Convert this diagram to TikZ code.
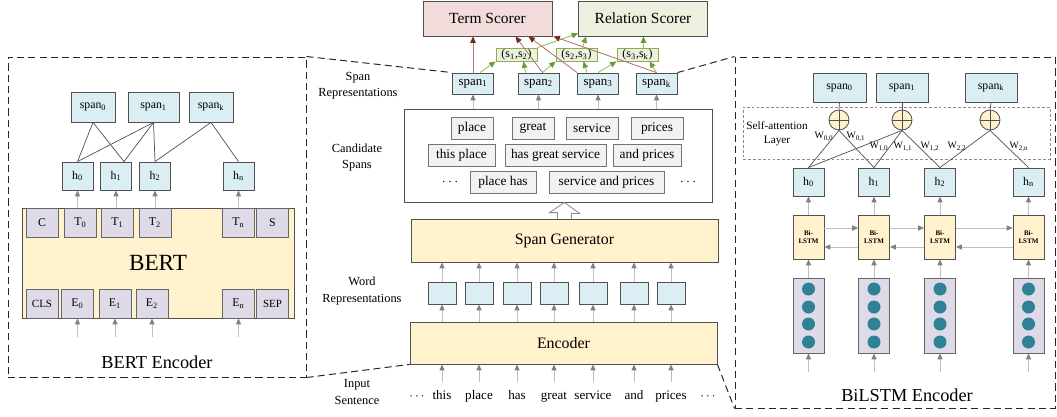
\documentclass[tikz,border=0pt]{standalone}
\usepackage{fontspec}
\setmainfont{Liberation Serif}
\usetikzlibrary{arrows.meta}
\newlength\px
\setlength\px{0.025cm}
\definecolor{spanblue}{HTML}{DAEEF3}
\definecolor{boxyellow}{HTML}{FFF2CC}
\definecolor{termred}{HTML}{F2DCDB}
\definecolor{relgreen}{HTML}{EBF1DE}
\definecolor{candgray}{HTML}{F2F2F2}
\definecolor{tokpurple}{HTML}{DEDAE8}
\definecolor{dotteal}{HTML}{2F8296}
\definecolor{edgegray}{HTML}{505050}
\definecolor{pairgreen}{HTML}{8CB050}
\definecolor{redline}{HTML}{B07572}
\definecolor{redtip}{HTML}{7B2421}
\definecolor{greenline}{HTML}{9BBB59}
\definecolor{greentip}{HTML}{6E9A32}
\begin{document}
\begin{tikzpicture}[x=0.025cm, y=-0.025cm, every node/.style={inner sep=0pt},
  bx/.style={draw=edgegray, line width=0.6pt},
  scorer/.style={bx, minimum width=129\px, minimum height=35\px, font=\fontsize{11}{13}\selectfont},
  pairbox/.style={draw=pairgreen, line width=0.6pt, fill=relgreen, minimum width=41\px, minimum height=13\px, font=\fontsize{8.5}{9}\selectfont},
  spanbox/.style={bx, fill=spanblue, minimum width=41\px, minimum height=21\px, font=\fontsize{9.2}{10}\selectfont},
  candbox/.style={draw=black!55, line width=0.6pt, fill=candgray, minimum height=22\px, font=\fontsize{9.5}{11}\selectfont},
  yellowbox/.style={bx, fill=boxyellow, font=\fontsize{11.3}{13}\selectfont},
  wordbox/.style={bx, fill=spanblue, minimum width=28\px, minimum height=22\px},
  word/.style={font=\fontsize{9.3}{10}\selectfont, text height=6.5pt, text depth=2pt},
  sidelabel/.style={align=center, font=\fontsize{8.8}{11.4}\selectfont},
  panel/.style={draw=black!85, line width=0.7pt, dash pattern=on 5pt off 3pt},
  hbox/.style={bx, fill=spanblue, minimum width=31\px, minimum height=28\px, font=\fontsize{8.4}{10}\selectfont},
  tokbox/.style={bx, draw=black!60, fill=tokpurple, minimum width=32\px, minimum height=29\px, font=\fontsize{8.4}{10}\selectfont},
  lstmbox/.style={bx, fill=boxyellow, minimum width=31\px, minimum height=44\px, align=center, font=\fontsize{5}{6}\selectfont\bfseries},
  embbox/.style={bx, draw=black!60, fill=tokpurple, minimum width=31\px, minimum height=75\px},
  dot/.style={circle, fill=dotteal, minimum size=13\px},
  addcirc/.style={circle, bx, fill=boxyellow, minimum size=20\px,
    path picture={\draw[edgegray, line width=0.6pt] (path picture bounding box.north) -- (path picture bounding box.south)
      (path picture bounding box.west) -- (path picture bounding box.east);}},
  wlabel/.style={font=\fontsize{7}{8}\selectfont},
  link/.style={draw=edgegray, line width=0.5pt},
  garrow/.style={draw=black!25, line width=0.6pt, -{Triangle[length=4.2pt, width=3.6pt, color=black!50]}},
  redarrow/.style={draw=redline, line width=0.6pt, -{Triangle[length=4.6pt, width=4pt, color=redtip]}},
  greenarrow/.style={draw=greenline, line width=0.6pt, -{Triangle[length=4.6pt, width=4pt, color=greentip]}}]
\useasboundingbox (0,0) rectangle (1057,416);

% scorers and span pairs
\node[scorer, fill=termred] (term) at (487.5,18.5) {Term Scorer};
\node[scorer, fill=relgreen] (rel) at (643,18.5) {Relation Scorer};
\node[pairbox] (p12) at (516.5,54.5) {(s\textsubscript{1},s\textsubscript{2})};
\node[pairbox] (p23) at (576.5,54.5) {(s\textsubscript{2},s\textsubscript{3})};
\node[pairbox] (p3k) at (637.5,54.5) {(s\textsubscript{3},s\textsubscript{k})};
\node[spanbox] (sp1) at (473,83.5) {span\textsubscript{1}};
\node[spanbox] (sp2) at (538.5,83.5) {span\textsubscript{2}};
\node[spanbox] (sp3) at (598,83.5) {span\textsubscript{3}};
\node[spanbox] (spk) at (656.5,83.5) {span\textsubscript{k}};

% candidate spans
\node[bx, minimum width=308\px, minimum height=93\px] (cand) at (558,155.5) {};
\node[candbox, minimum width=42\px] (cs1) at (472,128) {place};
\node[candbox, minimum width=42\px] (cs2) at (533,128) {great};
\node[candbox, minimum width=52\px] (cs3) at (592,128) {service};
\node[candbox, minimum width=52\px] (cs4) at (657,128) {prices};
\node[candbox, minimum width=67\px] (cs5) at (461.5,155) {this place};
\node[candbox, minimum width=101\px] (cs6) at (555.5,155) {has great service};
\node[candbox, minimum width=68\px] (cs7) at (647,155) {and prices};
\node[candbox, minimum width=66\px] (cs8) at (503,182) {place has};
\node[candbox, minimum width=115\px] (cs9) at (606.5,182) {service and prices};
\node (cdl) at (450,182) {$\cdots$};
\node (cdr) at (688,182) {$\cdots$};

% generator, word representations, encoder, input
\node[yellowbox, minimum width=307\px, minimum height=43\px] (gen) at (564.5,240.5) {Span Generator};
\node[yellowbox, minimum width=307\px, minimum height=42\px] (enc) at (563.5,343) {Encoder};
\foreach \x [count=\i] in {442,479,517,554,593,634,671}
  \node[wordbox] (w\i) at (\x,293) {};
\foreach \x/\t [count=\i] in {442/this,479/place,517/has,554/great,593/service,634/and,671/prices}
  \node[word] (t\i) at (\x,396) {\t};
\node[word] (tdl) at (417,396) {$\cdots$};
\node[word] (tdr) at (708,396) {$\cdots$};

% side labels
\node[sidelabel] (lspan) at (358,86) {Span\\Representations};
\node[sidelabel] (lcand) at (357,158) {Candidate\\Spans};
\node[sidelabel] (lword) at (362,291) {Word\\Representations};
\node[sidelabel] (linput) at (357,392) {Input\\Sentence};

% arrows in the middle column
\foreach \i in {1,...,7} {
  \draw[garrow] ([yshift=8\px]t\i.north) -- (w\i |- enc.south);
  \draw[garrow] (w\i |- enc.north) -- (w\i.south);
  \draw[garrow] (w\i.north) -- (w\i |- gen.south);
}
\draw[bx, draw=black!45, fill=white] ([xshift=-7\px]gen.north) -- ++(0,-6) -- ++(-8,0) -- (gen.north |- cand.south)
  -- ++(15,11) -- ++(-8,0) -- ([xshift=7\px]gen.north);
\foreach \s in {sp1,sp2,sp3,spk}
  \draw[garrow] (\s |- cand.north) -- (\s.south);
\draw[greenarrow] ([xshift=7\px]sp1.north) -- (p12.south west);
\draw[greenarrow] ([xshift=-13\px]sp2.north) -- ([xshift=7\px]p12.south);
\draw[greenarrow] ([xshift=4\px]sp2.north) -- (p23.south west);
\draw[greenarrow] ([xshift=-11\px]sp3.north) -- ([xshift=7\px]p23.south);
\draw[greenarrow] (sp3.north) -- (p3k.south west);
\draw[greenarrow] (spk.north) -- ([xshift=12\px]p3k.south);
\draw[greenarrow] (p12.north east) -- ([yshift=3\px]rel.south west);
\draw[greenarrow] ([xshift=6\px]p23.north) -- ([xshift=8\px]rel.south west);
\draw[greenarrow] ([xshift=6\px]p3k.north) -- ([xshift=6\px]p3k.north |- rel.south);
\draw[redarrow] (sp1.north) -- (sp1 |- term.south);
\draw[redarrow] ([xshift=4\px]sp2.north) -- ([xshift=28\px]term.south);
\draw[redarrow] (sp3.north west) -- ([xshift=41\px]term.south);
\draw[redarrow] (spk.north) -- ([xshift=1\px]term.south east);

% BERT encoder
\node[panel, minimum width=298\px, minimum height=320\px] (bertpanel) at (157,217) {};
\node[hbox, minimum width=44\px, minimum height=30\px] (ls0) at (93,107) {span\textsubscript{0}};
\node[hbox, minimum width=51\px, minimum height=30\px] (ls1) at (153.5,107) {span\textsubscript{1}};
\node[hbox, minimum width=44\px, minimum height=30\px] (lsk) at (211,107) {span\textsubscript{k}};
\node[hbox] (lh1) at (77.5,176) {h\textsubscript{0}};
\node[hbox] (lh2) at (116,176) {h\textsubscript{1}};
\node[hbox] (lh3) at (155,176) {h\textsubscript{2}};
\node[hbox] (lh4) at (238.5,176) {h\textsubscript{n}};
\node[yellowbox, minimum width=272\px, minimum height=110\px, font=\fontsize{16.5}{18}\selectfont] (bert) at (158,263) {BERT};
\node[tokbox] (tc) at (42,222.5) {C};
\node[tokbox] (tt0) at (80.5,222.5) {T\textsubscript{0}};
\node[tokbox] (tt1) at (117.5,222.5) {T\textsubscript{1}};
\node[tokbox] (tt2) at (155,222.5) {T\textsubscript{2}};
\node[tokbox] (ttn) at (238.5,222.5) {T\textsubscript{n}};
\node[tokbox] (ts) at (272.5,222.5) {S};
\node[tokbox, font=\fontsize{7.8}{9}\selectfont] (ecls) at (42,303.5) {CLS};
\node[tokbox] (ee0) at (77.5,303.5) {E\textsubscript{0}};
\node[tokbox] (ee1) at (115,303.5) {E\textsubscript{1}};
\node[tokbox] (ee2) at (152,303.5) {E\textsubscript{2}};
\node[tokbox] (een) at (238.5,303.5) {E\textsubscript{n}};
\node[tokbox, font=\fontsize{7.8}{9}\selectfont] (esep) at (272.5,303.5) {SEP};
\node[font=\fontsize{13}{15}\selectfont] (berttitle) at (157,362) {BERT Encoder};
\draw[link] (ls0.south) -- (lh1.north);
\draw[link] (ls0.south) -- ([xshift=8\px]lh2.north);
\draw[link] (ls1.south) -- (lh1.north);
\draw[link] (ls1.south) -- ([xshift=8\px]lh2.north);
\draw[link] (ls1.south) -- (lh3.north);
\draw[link] (lsk.south) -- (lh3.north);
\draw[link] (lsk.south) -- (lh4.north);
\foreach \i in {1,...,4}
  \draw[garrow] (lh\i |- bert.north) -- (lh\i.south);
\foreach \e in {ee0,ee1,ee2,een}
  \draw[garrow] ([yshift=-19\px]\e.south) -- (\e.south);

% BiLSTM encoder
\node[panel, minimum width=320\px, minimum height=351\px] (lstmpanel) at (895,232.5) {};
\node[draw=black!45, line width=0.5pt, dash pattern=on 2pt off 1.5pt, minimum width=307\px, minimum height=52\px] (att) at (896.5,133) {};
\node[align=center, font=\fontsize{8}{10}\selectfont] (attlabel) at (777,134) {Self-attention\\Layer};
\node[hbox, minimum width=53\px, minimum height=29\px] (rs0) at (839.5,87.5) {span\textsubscript{0}};
\node[hbox, minimum width=52\px, minimum height=29\px] (rs1) at (902,87.5) {span\textsubscript{1}};
\node[hbox, minimum width=52\px, minimum height=29\px] (rsk) at (991,87.5) {span\textsubscript{k}};
\node[addcirc] (ra0) at (839,120) {};
\node[addcirc] (ra1) at (902,120) {};
\node[addcirc] (ra2) at (990,120) {};
\foreach \x/\n [count=\i] in {808.5/0,874/1,940/2,1028.5/n} {
  \node[hbox] (rh\i) at (\x,182) {h\textsubscript{\n}};
  \node[lstmbox] (rl\i) at (\x,237) {Bi-\\LSTM};
  \node[embbox] (re\i) at (\x,315.5) {};
  \foreach \dy [count=\j] in {-26.5,-8.5,8.5,26.5}
    \node[dot] (rd\i\j) at (\x,{315.5+\dy}) {};
}
\node[font=\fontsize{13}{15}\selectfont] (lstmtitle) at (907,395) {BiLSTM Encoder};
\draw[link] (rs0.south) -- (ra0.north);
\draw[link] (rs1.south) -- (ra1.north);
\draw[link] (rsk.south) -- (ra2.north);
\draw[link] (ra0.south) -- (rh1.north);
\draw[link] (ra0.south) -- (rh2.north);
\draw[link] (ra1.south) -- (rh1.north);
\draw[link] (ra1.south) -- (rh2.north);
\draw[link] (ra1.south) -- (rh3.north);
\draw[link] (ra2.south) -- (rh3.north);
\draw[link] (ra2.south) -- (rh4.north);
\node[wlabel] (w00) at (824,137) {W\textsubscript{0,0}};
\node[wlabel] (w01) at (856,137) {W\textsubscript{0,1}};
\node[wlabel] (w10) at (879,147) {W\textsubscript{1,0}};
\node[wlabel] (w11) at (903,147) {W\textsubscript{1,1}};
\node[wlabel] (w12) at (930,147) {W\textsubscript{1,2}};
\node[wlabel] (w22) at (957,147) {W\textsubscript{2,2}};
\node[wlabel] (w2n) at (1019,147) {W\textsubscript{2,n}};
\foreach \i in {1,...,4} {
  \draw[garrow] ([yshift=-19\px]re\i.south) -- (re\i.south);
  \draw[garrow] (re\i.north) -- (rl\i.south);
  \draw[garrow] (rl\i.north) -- (rh\i.south);
}
\foreach \i/\j in {1/2,2/3,3/4} {
  \draw[garrow] ([yshift=9\px]rl\i.east) -- ([yshift=9\px]rl\j.west);
  \draw[garrow] ([yshift=-10\px]rl\j.west) -- ([yshift=-10\px]rl\i.east);
}

% zoom lines
\draw[panel] (bertpanel.north east) -- (sp1.north west);
\draw[panel] (bertpanel.south east) -- (enc.south west);
\draw[panel] (spk.north east) -- (lstmpanel.north west);
\draw[panel] (enc.south east) -- (lstmpanel.south west);
\end{tikzpicture}
\end{document}
